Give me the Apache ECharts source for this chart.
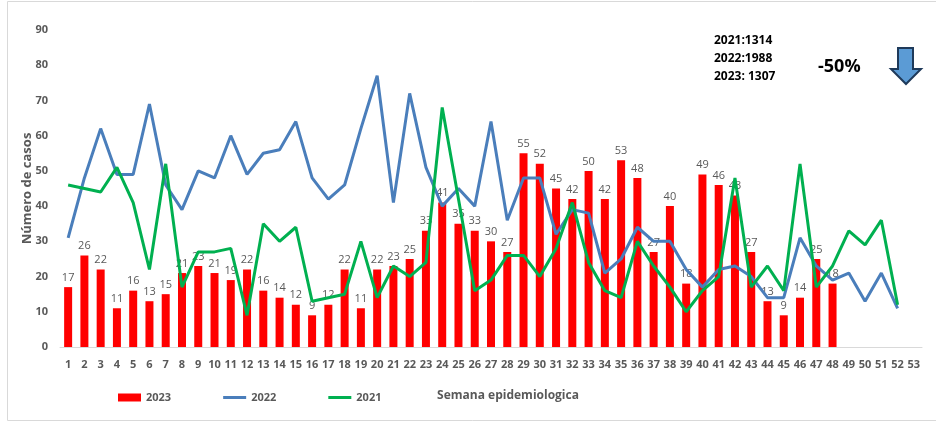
<!DOCTYPE html>
<html>
<head>
    <meta charset="utf-8">
    <title>Número de casos por semana epidemiologica</title>
    <script type="text/javascript" src="https://cdn.jsdelivr.net/npm/echarts@6/dist/echarts.min.js"></script>
    <style>
        html, body { margin: 0; padding: 0; background: #fff; }
        #container { width: 936px; height: 425px; }
    </style>
</head>
<body>
<div id="container"></div>
<script type="text/javascript">
    // semanas 1..53
    var semanas = [];
    for (var s = 1; s <= 53; s++) { semanas.push(String(s)); }

    var casos2023 = [17, 26, 22, 11, 16, 13, 15, 21, 23, 21, 19, 22, 16, 14, 12, 9, 12, 22, 11, 22,
        23, 25, 33, 41, 35, 33, 30, 27, 55, 52, 45, 42, 50, 42, 53, 48, 27, 40, 18, 49,
        46, 43, 27, 13, 9, 14, 25, 18];
    var casos2022 = [31, 48, 62, 49, 49, 69, 46, 39, 50, 48, 60, 49, 55, 56, 64, 48, 42, 46, 62, 77,
        41, 72, 51, 40, 45, 40, 64, 36, 48, 48, 32, 39, 38, 21, 25, 34, 30, 30, 22, 17,
        22, 23, 20, 14, 14, 31, 23, 19, 21, 13, 21, 11];
    var casos2021 = [46, 45, 44, 51, 41, 22, 52, 17, 27, 27, 28, 9, 35, 30, 34, 13, 14, 15, 30, 14,
        23, 20, 24, 68, 42, 16, 19, 26, 26, 20, 28, 41, 24, 16, 14, 30, 23, 17, 10, 16,
        20, 48, 17, 23, 16, 52, 17, 23, 33, 29, 36, 12];

    var totales = ['2021:1314', '2022:1988', '2023: 1307'];
    var variacion = '-50%';

    var gris = '#595959';
    // icono de linea fina dentro de una caja de 24x8
    var iconoLinea = 'path://M0,0L0.01,0L0,0ZM0,8L0.01,8L0,8ZM0,2.5L24,2.5L24,5.5L0,5.5Z';

    var dom = document.getElementById('container');
    var myChart = echarts.init(dom, null, { renderer: 'canvas' });

    var option = {
        animation: false,
        grid: { left: 60, right: 14, top: 30, bottom: 78 },
        legend: {
            left: 113,
            top: 387,
            itemWidth: 23,
            itemHeight: 8,
            itemGap: 52,
            textStyle: { color: gris, fontWeight: 'bold', fontSize: 11, fontFamily: 'Open Sans' },
            data: [
                { name: '2023', icon: 'rect' },
                { name: '2022', icon: iconoLinea },
                { name: '2021', icon: iconoLinea }
            ]
        },
        xAxis: {
            type: 'category',
            data: semanas,
            name: 'Semana epidemiologica',
            nameLocation: 'middle',
            nameGap: 43,
            nameMoveOverlap: false,
            nameTextStyle: { color: gris, fontWeight: 'bold', fontSize: 12, fontFamily: 'Open Sans', padding: [0, 0, 0, 34] },
            axisLine: { lineStyle: { color: '#D9D9D9', width: 1 } },
            axisTick: { show: false },
            axisLabel: { color: gris, fontWeight: 'bold', fontSize: 11, margin: 12, interval: 0, fontFamily: 'Open Sans' }
        },
        yAxis: {
            type: 'value',
            min: 0,
            max: 90,
            interval: 10,
            name: 'Número de casos',
            nameLocation: 'middle',
            nameGap: 26,
            nameMoveOverlap: false,
            nameTextStyle: { color: gris, fontWeight: 'bold', fontSize: 13, fontFamily: 'Open Sans' },
            axisLine: { show: false },
            axisTick: { show: false },
            splitLine: { show: false },
            axisLabel: { color: gris, fontWeight: 'bold', fontSize: 11, margin: 12, fontFamily: 'Open Sans' }
        },
        series: [
            {
                name: '2023',
                type: 'bar',
                data: casos2023,
                barWidth: 8,
                itemStyle: { color: '#FF0000' },
                label: {
                    show: true,
                    position: 'top',
                    distance: 4,
                    color: gris,
                    fontSize: 11,
                    fontFamily: 'Open Sans'
                }
            },
            {
                name: '2022',
                type: 'line',
                data: casos2022,
                symbol: 'none',
                lineStyle: { color: '#4A7EBB', width: 3 },
                itemStyle: { color: '#4A7EBB' }
            },
            {
                name: '2021',
                type: 'line',
                data: casos2021,
                symbol: 'none',
                lineStyle: { color: '#00B050', width: 3 },
                itemStyle: { color: '#00B050' }
            }
        ],
        graphic: [
            {
                type: 'rect',
                silent: true,
                shape: { x: 7.5, y: 1.5, width: 940, height: 419 },
                style: { fill: 'none', stroke: '#D9D9D9', lineWidth: 1 }
            },
            {
                type: 'text',
                left: 714,
                top: 32,
                style: {
                    text: totales.join('\n'),
                    fill: '#000',
                    font: 'bold 12px "Open Sans"',
                    lineHeight: 18
                }
            },
            {
                type: 'text',
                left: 818,
                top: 58,
                style: {
                    text: variacion,
                    fill: '#000',
                    font: 'bold 18px "Open Sans"'
                }
            },
            {
                // flecha hacia abajo
                type: 'polygon',
                silent: true,
                shape: {
                    points: [[898, 48], [913, 48], [913, 69], [921, 69], [906, 84], [891, 69], [898, 69]]
                },
                style: { fill: '#5B9BD5', stroke: '#1F3A5A', lineWidth: 2 }
            }
        ]
    };

    myChart.setOption(option);
    window.addEventListener('resize', myChart.resize);
</script>
</body>
</html>
